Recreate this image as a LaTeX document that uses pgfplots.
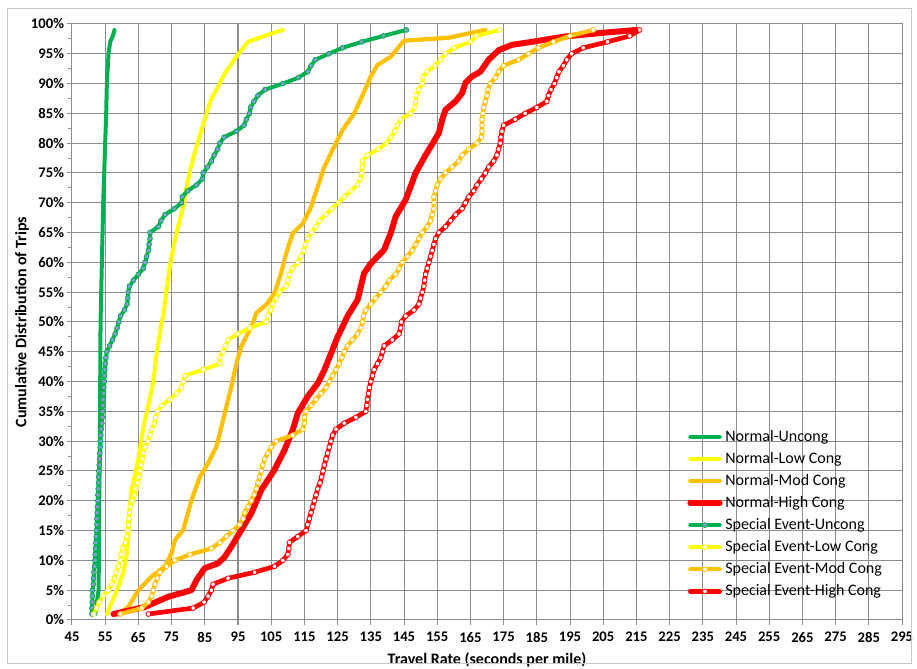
\documentclass[border=0pt]{standalone}
\usepackage{fontspec}
\setmainfont{Carlito}
\usepackage{pgfplots}
\pgfplotsset{compat=1.18}
\definecolor{xgreen}{RGB}{0,176,80}
\definecolor{xyellow}{RGB}{255,255,0}
\definecolor{xorange}{RGB}{255,192,0}
\definecolor{xred}{RGB}{255,0,0}
\definecolor{xblue}{RGB}{125,160,205}
\definecolor{gridc}{RGB}{140,140,140}
\begin{document}
\begin{tikzpicture}
\begin{axis}[
  scale only axis, width=622.5pt, height=447pt,
  xmin=45, xmax=295, ymin=0, ymax=100,
  xtick={45,55,...,295}, ytick={0,5,...,100},
  minor y tick num=1,
  grid=major,
  major grid style={gridc, line width=0.75pt},
  axis line style={gridc, line width=0.75pt},
  tick style={gridc, line width=0.75pt},
  tick align=outside, major tick length=4pt, minor tick length=3pt,
  tick pos=left,
  /pgf/number format/assume math mode=true,
  yticklabel={\pgfmathprintnumber{\tick}\%},
  ticklabel style={font=\bfseries\fontsize{11}{13}\selectfont, text=black},
  yticklabel style={xshift=1.5pt},
  xticklabel style={yshift=-1.5pt},
  xlabel={Travel Rate (seconds per mile)},
  ylabel={Cumulative Distribution of Trips},
  label style={font=\bfseries\fontsize{12}{14}\selectfont},
  xlabel style={at={(axis description cs:0.5,-0.0671)}, anchor=center},
  ylabel style={at={(axis description cs:-0.0602,0.5)}, anchor=center},
  legend style={at={(0.741,0.3235)}, anchor=north west, draw=none, fill=none,
    font=\fontsize{12}{14}\selectfont, row sep=2.75pt, inner sep=0pt},
  legend cell align=left,
  legend image code/.code={\draw[mark repeat=2,mark phase=2,#1] plot coordinates {(0pt,0pt)(11pt,0pt)(22pt,0pt)};},
  every axis plot/.append style={line join=round, line cap=round},
]
% Normal-Uncong
\addplot[xgreen, line width=3pt] coordinates {(52,1) (52.5,3) (53,5) (53.1,10) (53.2,20) (53.4,30) (53.5,40) (53.6,50) (54,60) (54.4,70) (55,80) (55.3,85) (55.5,90) (56,95) (56.5,97) (57.3,98) (57.8,99)};
\addlegendentry{Normal-Uncong}
% Normal-Low Cong
\addplot[xyellow, line width=3pt] coordinates {(55.5,1) (57,3) (59,5.6) (60.5,8) (61.5,11) (62,14) (62,16.8) (63,22) (65,27) (66.5,32.4) (68,36) (69.5,40) (70.5,44.7) (72,50) (72.5,51) (73.5,55.4) (74.8,60.4) (76.5,65) (78.5,69.3) (79.5,72.7) (80.8,76) (82.5,79.4) (84,82.2) (85,84) (86.8,87.2) (89,89.5) (91,91.7) (94.5,94.5) (98,97) (103,98) (108.5,99)};
\addlegendentry{Normal-Low Cong}
% Normal-Mod Cong
\addplot[xorange, line width=3.2pt] coordinates {(59,1) (62,2.2) (65,5) (69,7.3) (73,9) (75,11.2) (76,13.4) (78.5,15.1) (81,20.1) (83.5,24) (86,26.3) (88.5,29.1) (90,32.4) (91.5,35.8) (93,39.1) (94.5,43) (96,45.9) (98,48.1) (99.5,49.8) (100.5,51.5) (103.5,52.9) (106,54.8) (108,58.2) (109.5,61.5) (111.5,64.9) (114.5,66.5) (117,69.3) (119,72.7) (121,76) (123.5,78.9) (126.5,82.2) (130,85) (133,88.6) (135,91.2) (137,93.1) (141,94.5) (143.5,96.2) (145,97.2) (158.5,97.7) (169.5,99)};
\addlegendentry{Normal-Mod Cong}
% Normal-High Cong
\addplot[xred, line width=4.5pt] coordinates {(57.5,1) (67,2.2) (74,3.9) (81,5) (82.5,6.7) (85,8.7) (89,9.5) (91,10.6) (93,12.3) (96,15.1) (99,17.9) (102,21.8) (106,25.2) (109,28.5) (111.5,31.9) (113,34.7) (116,37.5) (119,39.7) (121,41.9) (123,44.7) (125,47.5) (126.5,49.2) (128,51) (131,53.7) (133,58.2) (135,59.8) (139,62.1) (141,64.9) (142.5,67.7) (145.5,70.5) (148.5,75) (151.5,78) (155.5,81.7) (156.5,83.9) (157.5,85.6) (160.5,87) (162.5,88.4) (163.5,90.1) (165.5,91.2) (168,92) (170.5,94) (173.5,95.6) (177.5,96.5) (183.5,97) (193.5,97.9) (204.5,98.5) (215,99)};
\addlegendentry{Normal-High Cong}
% Special Event-Uncong
\addplot[xgreen, line width=3pt, mark=*, mark size=1.8pt, mark options={solid, fill=xblue, draw=xgreen, line width=0.6pt}] coordinates {
(51.0,1) (51.0,2) (51.1,3) (51.1,4) (51.2,5) (51.4,6) (51.5,7) (51.6,8) (51.8,9) (51.9,10)
(52.0,11) (52.1,12) (52.2,13) (52.3,14) (52.4,15) (52.5,16) (52.5,17) (52.6,18) (52.7,19) (52.8,20)
(52.8,21) (52.9,22) (53.0,23) (53.0,24) (53.1,25) (53.2,26) (53.3,27) (53.4,28) (53.5,29) (53.6,30)
(53.7,31) (53.8,32) (54.0,33) (54.1,34) (54.2,35) (54.3,36) (54.4,37) (54.5,38) (54.6,39) (54.7,40)
(54.8,41) (54.9,42) (55.0,43) (55.2,44) (55.5,45) (56.3,46) (57.2,47) (58.0,48) (58.6,49) (59.1,50)
(59.6,51) (60.8,52) (61.6,53) (61.8,54) (61.9,55) (62.3,56) (63.5,57) (65.0,58) (66.5,59) (67.0,60)
(67.5,61) (68.0,62) (68.2,63) (68.5,64) (68.5,65) (71.0,66) (71.8,67) (73.0,68) (75.8,69) (78.0,70)
(78.2,71) (79.8,72) (82.5,73) (84.3,74) (84.5,75) (85.8,76) (87.0,77) (87.8,78) (88.9,79) (89.5,80)
(90.8,81) (94.5,82) (96.8,83) (97.5,84) (98.5,85) (98.8,86) (99.8,87) (101.0,88) (103.2,89) (108.5,90)
(113.2,91) (116.0,92) (117.0,93) (118.3,94) (122.3,95) (126.5,96) (132.3,97) (138.8,98) (145.7,99)};
\addlegendentry{Special Event-Uncong}
% Special Event-Low Cong
\addplot[xyellow, line width=3pt, mark=*, mark size=1.8pt, mark options={solid, fill=white, draw=xyellow, line width=0.6pt}] coordinates {
(51.5,1) (52.4,2) (53.2,3) (54.4,4) (55.9,5) (57.0,6) (57.8,7) (58.3,8) (59.0,9) (59.5,10)
(59.8,11) (60.2,12) (61.0,13) (61.5,14) (61.8,15) (62.0,16) (62.2,17) (62.4,18) (62.6,19) (63.2,20)
(63.8,21) (64.3,22) (64.8,23) (65.2,24) (65.5,25) (65.8,26) (66.2,27) (66.5,28) (67.0,29) (67.8,30)
(68.5,31) (69.0,32) (69.8,33) (70.2,34) (70.8,35) (72.0,36) (74.5,37) (76.5,38) (78.0,39) (78.5,40)
(79.0,41) (84.5,42) (89.5,43) (89.5,44) (90.5,45) (91.3,46) (92.0,47) (95.0,48) (98.5,49) (103.5,50)
(104.0,51) (104.8,52) (105.5,53) (106.5,54) (107.5,55) (109.5,56) (110.0,57) (110.5,58) (111.5,59) (113.0,60)
(114.0,61) (114.8,62) (115.3,63) (116.0,64) (117.2,65) (118.5,66) (119.5,67) (121.5,68) (123.3,69) (125.3,70)
(127.0,71) (129.0,72) (131.0,73) (131.8,74) (132.3,75) (132.5,76) (132.5,77) (134.0,78) (137.3,79) (139.7,80)
(141.0,81) (142.2,82) (143.0,83) (144.0,84) (147.0,85) (148.3,86) (148.5,87) (148.7,88) (149.5,89) (150.5,90)
(150.7,91) (152.0,92) (154.3,93) (156.0,94) (157.5,95) (160.2,96) (165.0,97) (166.8,98) (173.8,99)};
\addlegendentry{Special Event-Low Cong}
% Special Event-Mod Cong
\addplot[xorange, line width=3.2pt, mark=*, mark size=1.8pt, mark options={solid, fill=white, draw=xorange, line width=0.6pt}] coordinates {
(59.5,1) (66.0,2) (68.0,3) (69.0,4) (69.5,5) (70.0,6) (70.7,7) (71.5,8) (73.5,9) (76.0,10)
(80.5,11) (87.0,12) (89.5,13) (91.5,14) (93.5,15) (95.5,16) (96.5,17) (97.0,18) (98.0,19) (99.0,20)
(99.8,21) (100.5,22) (101.0,23) (101.5,24) (102.0,25) (102.5,26) (103.0,27) (104.0,28) (105.0,29) (106.5,30)
(111.5,31) (114.5,32) (115.0,33) (115.0,34) (115.5,35) (117.0,36) (118.5,37) (120.0,38) (121.5,39) (122.5,40)
(123.5,41) (124.5,42) (125.5,43) (126.3,44) (127.0,45) (128.0,46) (129.5,47) (131.0,48) (132.0,49) (132.5,50)
(132.8,51) (133.5,52) (135.0,53) (136.5,54) (138.0,55) (139.5,56) (140.5,57) (142.5,58) (143.5,59) (144.5,60)
(146.0,61) (147.5,62) (148.5,63) (149.5,64) (150.5,65) (152.0,66) (153.0,67) (153.5,68) (154.0,69) (154.0,70)
(154.0,71) (154.5,72) (155.0,73) (156.0,74) (157.5,75) (159.5,76) (161.5,77) (162.5,78) (164.5,79) (167.0,80)
(168.3,81) (168.5,82) (168.5,83) (168.5,84) (168.8,85) (169.0,86) (169.5,87) (170.0,88) (170.3,89) (171.0,90)
(172.5,91) (173.5,92) (175.0,93) (179.5,94) (182.5,95) (185.5,96) (190.0,97) (195.0,98) (202.0,99)};
\addlegendentry{Special Event-Mod Cong}
% Special Event-High Cong
\addplot[xred, line width=3.5pt, mark=*, mark size=1.8pt, mark options={solid, fill=white, draw=xred, line width=0.6pt}] coordinates {
(68.0,1) (81.5,2) (84.8,3) (86.0,4) (87.0,5) (87.5,6) (92.0,7) (100.0,8) (106.0,9) (108.5,10)
(110.0,11) (110.3,12) (110.5,13) (113.0,14) (115.5,15) (116.0,16) (116.5,17) (117.0,18) (117.5,19) (118.0,20)
(118.5,21) (119.0,22) (119.7,23) (120.2,24) (120.6,25) (121.0,26) (121.5,27) (122.0,28) (122.5,29) (123.0,30)
(123.5,31) (124.5,32) (127.0,33) (130.5,34) (133.5,35) (133.8,36) (134.0,37) (134.3,38) (134.6,39) (135.0,40)
(135.5,41) (136.0,42) (137.0,43) (138.0,44) (138.5,45) (139.0,46) (141.5,47) (143.5,48) (144.0,49) (144.2,50)
(145.5,51) (148.0,52) (149.5,53) (150.0,54) (150.5,55) (151.0,56) (151.2,57) (151.5,58) (152.0,59) (152.5,60)
(153.0,61) (153.5,62) (154.0,63) (154.5,64) (155.5,65) (157.5,66) (159.0,67) (160.5,68) (162.5,69) (163.5,70)
(164.5,71) (166.0,72) (167.0,73) (168.3,74) (169.5,75) (170.5,76) (172.0,77) (173.0,78) (173.5,79) (174.0,80)
(174.2,81) (174.5,82) (175.0,83) (178.5,84) (181.5,85) (185.0,86) (188.0,87) (188.5,88) (189.3,89) (190.3,90)
(191.0,91) (191.7,92) (193.0,93) (194.0,94) (195.5,95) (199.0,96) (206.3,97) (213.0,98) (216.0,99)};
\addlegendentry{Special Event-High Cong}
\end{axis}
\draw[black!22, line width=0.75pt] ([shift={(-48pt,-33pt)}]current axis.south west) rectangle ([shift={(6.75pt,11.25pt)}]current axis.north east);
\pgfresetboundingbox
\path[use as bounding box] ([shift={(-54pt,-36.75pt)}]current axis.south west) rectangle ([shift={(11.25pt,18pt)}]current axis.north east);
\end{tikzpicture}
\end{document}
